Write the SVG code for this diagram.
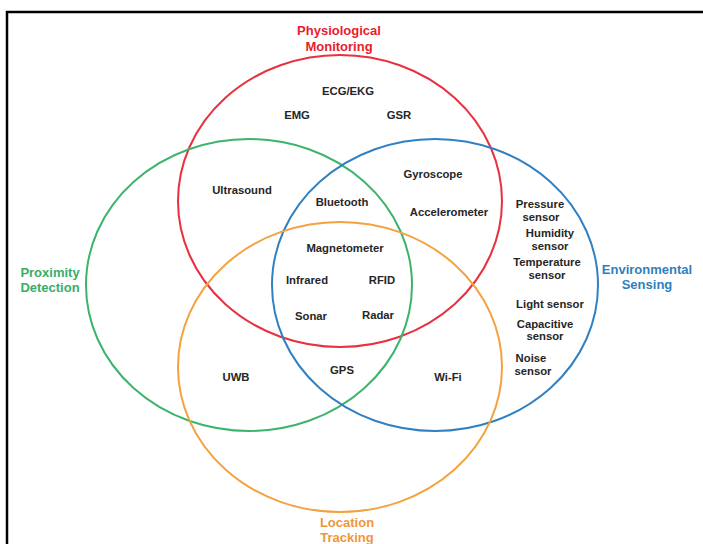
<svg xmlns="http://www.w3.org/2000/svg" width="703" height="544" viewBox="0 0 703 544">
  <style>
    .ring { fill: none; stroke-width: 2; }
    .item { font-family: "Liberation Sans", Arial, sans-serif; font-weight: bold; font-size: 11.3px; fill: #262626; text-anchor: middle; }
    .set { font-family: "Liberation Sans", Arial, sans-serif; font-weight: bold; font-size: 13px; text-anchor: middle; }
  </style>
  <rect width="703" height="544" fill="#ffffff"/>
  <!-- frame -->
  <path d="M7,544 V12 H703" fill="none" stroke="#000" stroke-width="2.5"/>

  <g id="connectors">
    <ellipse id="ring-physio" class="ring" cx="340" cy="201" rx="162" ry="146" stroke="#e8303f"/>
    <ellipse id="ring-proximity" class="ring" cx="249" cy="285" rx="163" ry="146" stroke="#3cb46c"/>
    <ellipse id="ring-environment" class="ring" cx="435" cy="285" rx="163" ry="146" stroke="#3180c2"/>
    <ellipse id="ring-location" class="ring" cx="340" cy="367" rx="162" ry="145" stroke="#f3a23e"/>
  </g>

  <g id="label-physiological" class="set" fill="#e8202c">
    <text x="339" y="35">Physiological</text>
    <text x="339" y="51">Monitoring</text>
  </g>
  <g id="label-proximity" class="set" fill="#3aad68">
    <text x="50" y="277">Proximity</text>
    <text x="50" y="292">Detection</text>
  </g>
  <g id="label-environmental" class="set" fill="#2f7fc0">
    <text x="647" y="274">Environmental</text>
    <text x="647" y="289">Sensing</text>
  </g>
  <g id="label-location" class="set" fill="#f0963a">
    <text x="347" y="527">Location</text>
    <text x="347" y="542">Tracking</text>
  </g>

  <g id="node-ecg"><text class="item" x="348" y="95">ECG/EKG</text></g>
  <g id="node-emg"><text class="item" x="297" y="119">EMG</text></g>
  <g id="node-gsr"><text class="item" x="399" y="119">GSR</text></g>
  <g id="node-ultrasound"><text class="item" x="242" y="194">Ultrasound</text></g>
  <g id="node-gyroscope"><text class="item" x="433" y="178">Gyroscope</text></g>
  <g id="node-bluetooth"><text class="item" x="342" y="206">Bluetooth</text></g>
  <g id="node-accelerometer"><text class="item" x="449" y="216">Accelerometer</text></g>
  <g id="node-magnetometer"><text class="item" x="345" y="252">Magnetometer</text></g>
  <g id="node-infrared"><text class="item" x="307" y="284">Infrared</text></g>
  <g id="node-rfid"><text class="item" x="382" y="284">RFID</text></g>
  <g id="node-sonar"><text class="item" x="311" y="320">Sonar</text></g>
  <g id="node-radar"><text class="item" x="378" y="319">Radar</text></g>
  <g id="node-uwb"><text class="item" x="236" y="381">UWB</text></g>
  <g id="node-gps"><text class="item" x="342" y="374">GPS</text></g>
  <g id="node-wifi"><text class="item" x="448" y="381">Wi-Fi</text></g>

  <g id="node-pressure" class="item">
    <text x="540" y="208">Pressure</text>
    <text x="541" y="221">sensor</text>
  </g>
  <g id="node-humidity" class="item">
    <text x="550" y="237">Humidity</text>
    <text x="550" y="250">sensor</text>
  </g>
  <g id="node-temperature" class="item">
    <text x="547" y="266">Temperature</text>
    <text x="547" y="279">sensor</text>
  </g>
  <g id="node-light"><text class="item" x="550" y="308">Light sensor</text></g>
  <g id="node-capacitive" class="item">
    <text x="545" y="328">Capacitive</text>
    <text x="545" y="340">sensor</text>
  </g>
  <g id="node-noise" class="item">
    <text x="531" y="362">Noise</text>
    <text x="533" y="375">sensor</text>
  </g>
</svg>
